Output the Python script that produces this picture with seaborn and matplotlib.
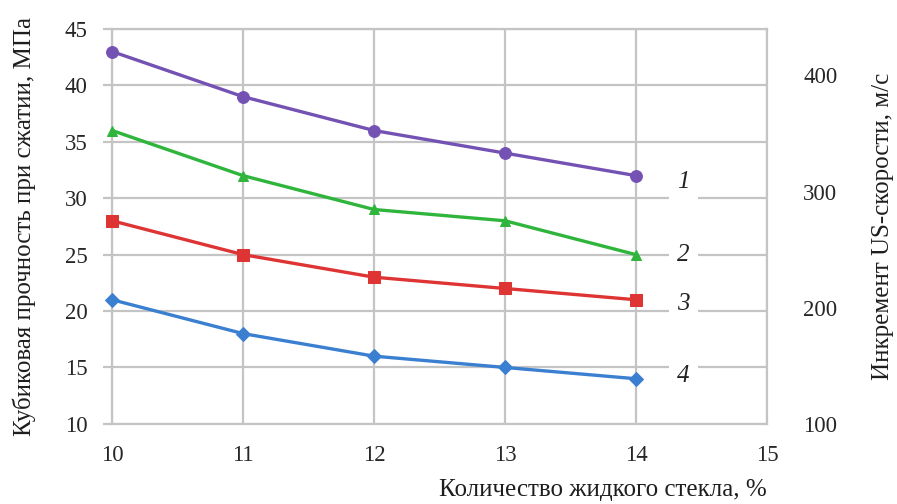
import numpy as np
import pandas as pd
import matplotlib
matplotlib.use("Agg")
import matplotlib.pyplot as plt
import seaborn as sns

# data
glass = [10, 11, 12, 13, 14]
s1 = [43, 39, 36, 34, 32]
s2 = [36, 32, 29, 28, 25]
s3 = [28, 25, 23, 22, 21]
s4 = [21, 18, 16, 15, 14]
series_labels = ["1", "2", "3", "4"]
left_ticks = [10, 15, 20, 25, 30, 35, 40, 45]
right_ticks = [100, 200, 300, 400]
x_ticks = [10, 11, 12, 13, 14, 15]

colors = ["#7452b4", "#2fb53c", "#de3434", "#3b7fd1"]
markers = ["o", "^", "s", "D"]
msizes = [8.5, 7, 8.5, 7]

sns.set_style("white")
plt.rcParams["font.family"] = ["Liberation Serif", "DejaVu Serif"]

fig = plt.figure(figsize=(8.97, 5.04), dpi=100)
ax = fig.add_axes([0.125, 0.159, 0.730, 0.7835])

for vals, c, m, ms in zip([s1, s2, s3, s4], colors, markers, msizes):
    sns.lineplot(x=glass, y=vals, ax=ax, color=c, marker=m, markersize=ms,
                 markeredgecolor=c, linewidth=2.4, legend=False, clip_on=False,
                 zorder=3)

ax.set_xlim(10, 15)
ax.set_ylim(10, 45)
ax.set_xticks(x_ticks)
ax.set_yticks(left_ticks)
ax.grid(True, color="#c4c4c4", linewidth=1.6)
ax.set_axisbelow(True)
for sp in ax.spines.values():
    sp.set_color("#c4c4c4")
    sp.set_linewidth(1.6)
ax.tick_params(axis="y", length=6.5, width=1.6, color="#c4c4c4",
               labelsize=16.5, labelcolor="#262626", pad=11)
ax.tick_params(axis="x", length=0, labelsize=16.5, labelcolor="#262626", pad=15)
ax.set_ylabel("Кубиковая прочность при сжатии, МПа", fontsize=18, color="#1e1e1e",
              labelpad=21)
ax.set_xlabel("Количество жидкого стекла, %", fontsize=18, color="#1e1e1e")
ax.xaxis.set_label_coords(1.0, -0.14)
ax.xaxis.label.set_horizontalalignment("right")

# curve numbers
label_pos = [(14.36, 31.4), (14.36, 25.0), (14.36, 20.6), (14.36, 14.2)]
for lab, (lx, ly) in zip(series_labels, label_pos):
    ax.text(lx, ly, lab, fontsize=18, style="italic", color="#222222",
            ha="center", va="center",
            bbox=dict(facecolor="white", edgecolor="none", pad=6))

ax2 = ax.twinx()
ax2.set_ylim(100, 440)
ax2.set_yticks(right_ticks)
ax2.tick_params(axis="y", length=0, labelsize=16.5, labelcolor="#262626", pad=26)
for sp in ax2.spines.values():
    sp.set_visible(False)
ax2.set_ylabel("Инкремент US-скорости, м/с", fontsize=18, color="#1e1e1e",
               labelpad=25)

fig.savefig("out.png", dpi=100)
